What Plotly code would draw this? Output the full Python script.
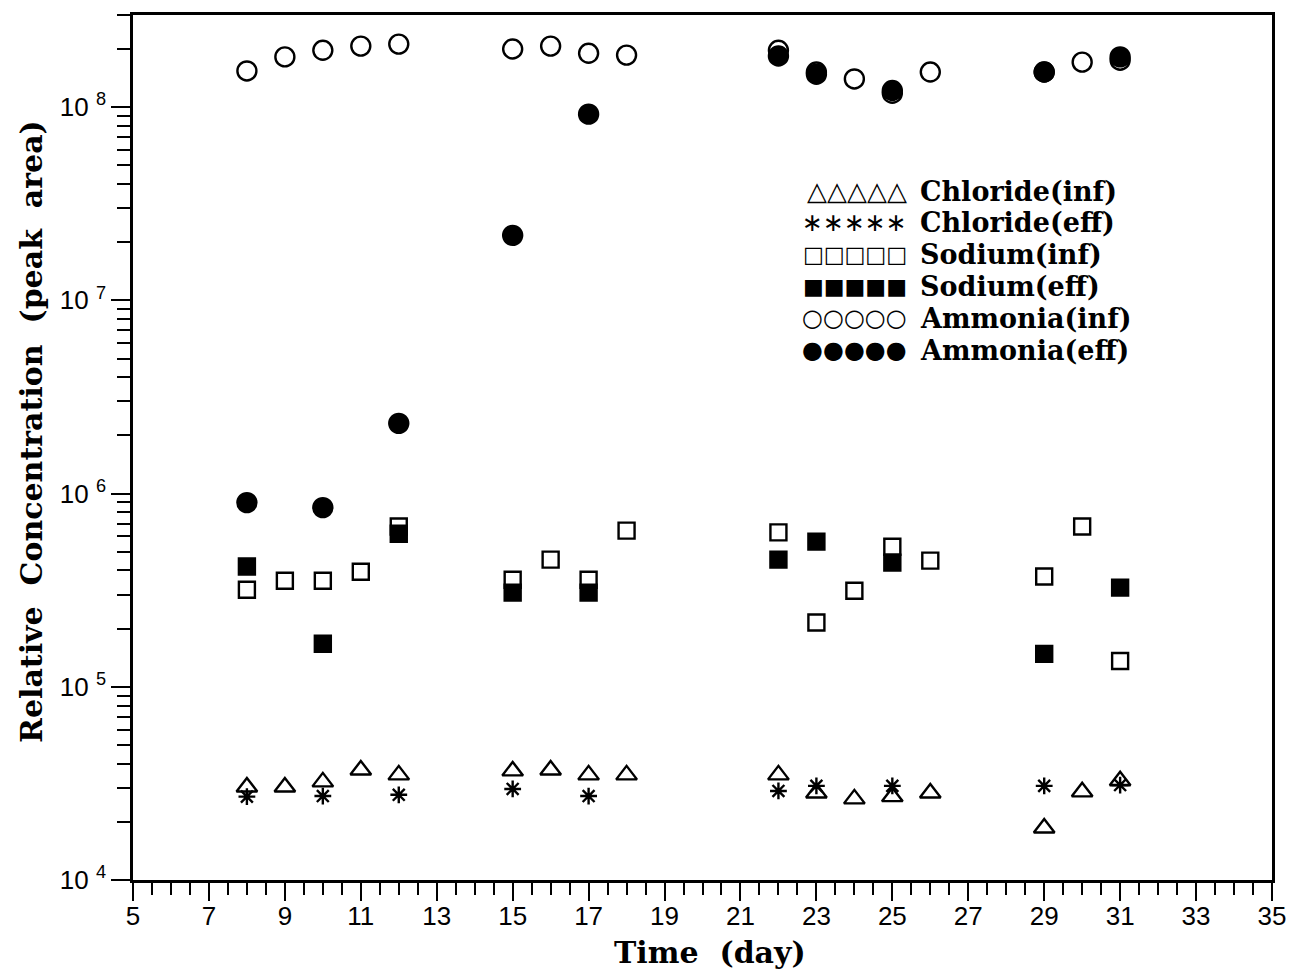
import plotly.graph_objects as go

# ---- data ----
cl_inf_day = [8, 9, 10, 11, 12, 15, 16, 17, 18, 22, 23, 24, 25, 26, 29, 30, 31]
cl_inf_val = [3.03e4, 3.03e4, 3.22e4, 3.71e4, 3.5e4, 3.67e4, 3.71e4, 3.5e4, 3.5e4,
              3.5e4, 2.82e4, 2.63e4, 2.7e4, 2.82e4, 1.86e4, 2.86e4, 3.26e4]

cl_eff_day = [8, 10, 12, 15, 17, 22, 23, 25, 29, 31]
cl_eff_val = [2.7e4, 2.72e4, 2.76e4, 2.96e4, 2.72e4, 2.89e4, 3.07e4, 3.07e4, 3.07e4, 3.1e4]

na_inf_day = [8, 9, 10, 11, 12, 15, 16, 17, 18, 22, 23, 24, 25, 26, 29, 30, 31]
na_inf_val = [3.18e5, 3.54e5, 3.54e5, 3.94e5, 6.75e5, 3.58e5, 4.55e5, 3.58e5, 6.43e5,
              6.3e5, 2.15e5, 3.14e5, 5.31e5, 4.5e5, 3.72e5, 6.75e5, 1.36e5]

na_eff_day = [8, 10, 12, 15, 17, 22, 23, 25, 29, 31]
na_eff_val = [4.19e5, 1.67e5, 6.2e5, 3.07e5, 3.07e5, 4.55e5, 5.64e5, 4.39e5, 1.48e5, 3.26e5]

nh_inf_day = [8, 9, 10, 11, 12, 15, 16, 17, 18, 22, 23, 24, 25, 26, 29, 30, 31]
nh_inf_val = [1.54e8, 1.82e8, 1.97e8, 2.07e8, 2.12e8, 2.0e8, 2.07e8, 1.9e8, 1.86e8,
              1.97e8, 1.52e8, 1.40e8, 1.18e8, 1.52e8, 1.52e8, 1.71e8, 1.75e8]

nh_eff_day = [8, 10, 12, 15, 17, 22, 23, 25, 29, 31]
nh_eff_val = [8.98e5, 8.46e5, 2.31e6, 2.17e7, 9.2e7, 1.84e8, 1.48e8, 1.22e8, 1.52e8, 1.82e8]

x_ticks = list(range(5, 36, 2))
y_tickvals = [1e4, 1e5, 1e6, 1e7, 1e8]
y_ticktext = ["10 <sup>4</sup>", "10 <sup>5</sup>", "10 <sup>6</sup>", "10 <sup>7</sup>", "10 <sup>8</sup>"]

legend_symbols = ["\u25b3\u25b3\u25b3\u25b3\u25b3", "\u2217\u2217\u2217\u2217\u2217",
                  "\u25a1\u25a1\u25a1\u25a1\u25a1", "\u25a0\u25a0\u25a0\u25a0\u25a0",
                  "\u25cb\u25cb\u25cb\u25cb\u25cb", "\u25cf\u25cf\u25cf\u25cf\u25cf"]
legend_labels = ["Chloride(inf)", "Chloride(eff)", "Sodium(inf)", "Sodium(eff)",
                 "Ammonia(inf)", "Ammonia(eff)"]

# ---- figure ----
fig = go.Figure()
LW = 2.4
series = [
    (cl_inf_day, cl_inf_val, "triangle-up-open", 18),
    (cl_eff_day, cl_eff_val, "asterisk-open", 14),
    (na_inf_day, na_inf_val, "square-open", 16),
    (na_eff_day, na_eff_val, "square", 16),
    (nh_inf_day, nh_inf_val, "circle-open", 19),
    (nh_eff_day, nh_eff_val, "circle", 19),
]
for (d, v, sym, sz), name in zip(series, legend_labels):
    fig.add_trace(go.Scatter(
        x=d, y=v, mode="markers", name=name, showlegend=False,
        marker=dict(symbol=sym, size=sz, color="black",
                    line=dict(color="black", width=LW)),
    ))

# legend drawn as text rows
L, R, T, B = 133, 1272, 15, 880
PW, PH = R - L, B - T
row_y0 = 191
row_dy = 31.8
sym_sizes = [26, 25, 22, 22, 24, 24]
for i, (s, lab) in enumerate(zip(legend_symbols, legend_labels)):
    py = row_y0 + i * row_dy
    yp = (B - py) / PH
    fig.add_annotation(x=(909 - L) / PW, y=yp, xref="paper", yref="paper",
                       text=s, showarrow=False, xanchor="right", yanchor="middle",
                       font=dict(family="DejaVu Sans", size=sym_sizes[i], color="black"))
    fig.add_annotation(x=(918 - L) / PW, y=yp, xref="paper", yref="paper",
                       text=lab, showarrow=False, xanchor="left", yanchor="middle",
                       font=dict(family="DejaVu Serif", size=27, color="black", weight="bold"))

# axis titles as annotations
fig.add_annotation(x=(31 - L) / PW, y=(B - 432) / PH, xref="paper", yref="paper",
                   text="Relative\u00a0 Concentration\u00a0 (peak\u00a0 area)", textangle=-90,
                   showarrow=False, xanchor="center", yanchor="middle",
                   font=dict(family="DejaVu Serif", size=30, color="black", weight="bold"))
fig.add_annotation(x=(710 - L) / PW, y=(B - 952) / PH, xref="paper", yref="paper",
                   text="Time\u00a0 (day)",
                   showarrow=False, xanchor="center", yanchor="middle",
                   font=dict(family="DejaVu Serif", size=30, color="black", weight="bold"))

fig.update_layout(
    width=1291, height=971, autosize=False,
    margin=dict(l=L, r=1291 - R, t=T, b=971 - B, pad=0, autoexpand=False),
    paper_bgcolor="white", plot_bgcolor="white",
    showlegend=False,
    xaxis=dict(
        range=[5, 35], tickvals=x_ticks, ticks="outside", ticklen=18, tickwidth=2.2,
        tickcolor="black", showline=True, linewidth=2.5, linecolor="black", mirror=True,
        showgrid=False, zeroline=False, automargin=False, ticklabelstandoff=-7,
        tickfont=dict(family="Liberation Sans", size=26, color="black"),
        minor=dict(dtick=0.5, ticks="outside", ticklen=12, tickwidth=2.2, tickcolor="black", showgrid=False),
    ),
    yaxis=dict(
        type="log", range=[4, 8.477], tickvals=y_tickvals, ticktext=y_ticktext,
        ticks="outside", ticklen=19, tickwidth=2.2, tickcolor="black",
        showline=True, linewidth=2.5, linecolor="black", mirror=True,
        showgrid=False, zeroline=False, automargin=False,
        tickfont=dict(family="Liberation Sans", size=26, color="black"),
        minor=dict(dtick="D1", ticks="outside", ticklen=13, tickwidth=2.2, tickcolor="black", showgrid=False),
    ),
)

fig.write_html("out.html")
